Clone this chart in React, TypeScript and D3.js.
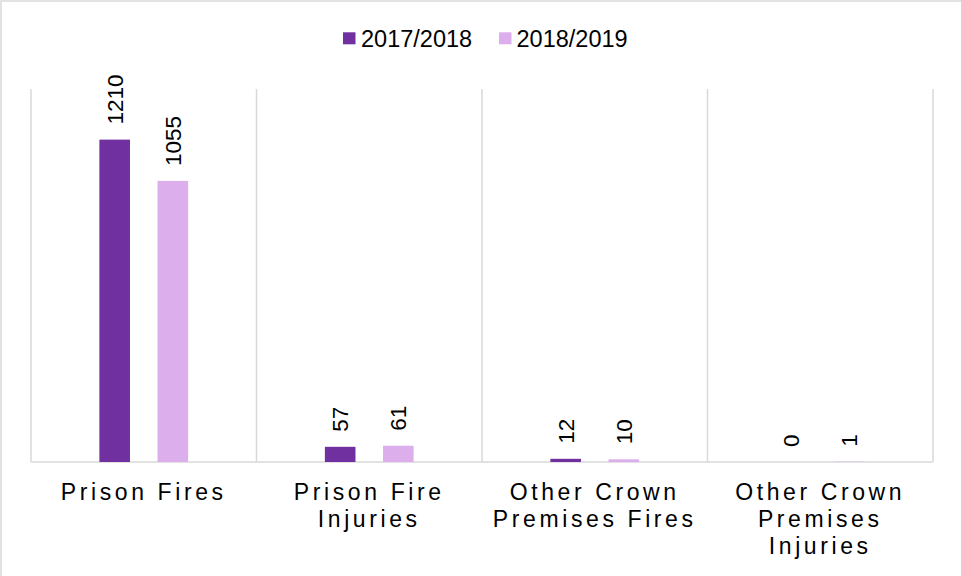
import React from "react";
import * as d3 from "d3";

const categories = [
  "Prison Fires",
  "Prison Fire Injuries",
  "Other Crown Premises Fires",
  "Other Crown Premises Injuries",
];
const categoryLines = [
  ["Prison Fires"],
  ["Prison Fire", "Injuries"],
  ["Other Crown", "Premises Fires"],
  ["Other Crown", "Premises", "Injuries"],
];
const seriesNames = ["2017/2018", "2018/2019"];
const values2017 = [1210, 57, 12, 0];
const values2018 = [1055, 61, 10, 1];
const seriesColors = ["#7030A0", "#DDAEEC"];

const W = 961;
const H = 576;
const FONT = "'Liberation Sans', Arial, Helvetica, sans-serif";

export default function App() {
  const left = 31;
  const right = 933;
  const top = 89;
  const base = 462;

  const x0 = d3.scaleBand<string>().domain(categories).range([left, right]).padding(0);
  const groupW = x0.bandwidth() * 0.3935;
  const x1 = d3.scaleBand<string>().domain(seriesNames).range([0, groupW]).paddingInner(0.474).paddingOuter(0);
  const y = d3.scaleLinear().domain([0, 1400]).range([base, top]);

  const series = [values2017, values2018];
  const gridXs = [...categories.map((c) => x0(c) as number), right];

  const legendItems = [
    { name: seriesNames[0], color: seriesColors[0], sx: 343, tx: 361 },
    { name: seriesNames[1], color: seriesColors[1], sx: 499, tx: 516.5 },
  ];

  return (
    <svg
      width={W}
      height={H}
      style={{ position: "absolute", left: 0, top: 0, background: "#fff" }}
      fontFamily={FONT}
    >
      <rect x={1} y={1} width={W + 10} height={H + 10} fill="#fff" stroke="#d9d9d9" strokeWidth={1.5} />
      {gridXs.map((gx, i) => (
        <line key={"g" + i} x1={gx} x2={gx} y1={top} y2={base} stroke="#d9d9d9" strokeWidth={1.5} />
      ))}
      <line x1={left} x2={right} y1={base} y2={base} stroke="#d9d9d9" strokeWidth={1.5} />

      {categories.map((c, ci) => {
        const gx = (x0(c) as number) + (x0.bandwidth() - groupW) / 2;
        return (
          <g key={c}>
            {series.map((vals, si) => {
              const bx = gx + (x1(seriesNames[si]) as number);
              const bw = x1.bandwidth();
              const v = vals[ci];
              const yt = y(v);
              const cx = bx + bw / 2;
              return (
                <g key={si}>
                  {v > 0 && (
                    <rect x={bx} y={yt} width={bw} height={base - yt} fill={seriesColors[si]} />
                  )}
                  <text
                    transform={`translate(${cx},${yt - 15}) rotate(-90)`}
                    dy="0.35em"
                    fontSize={22.5}
                    fill="#000"
                  >
                    {v}
                  </text>
                </g>
              );
            })}
            {categoryLines[ci].map((ln, li) => (
              <text
                key={li}
                x={(x0(c) as number) + x0.bandwidth() / 2}
                y={500 + li * 27}
                textAnchor="middle"
                fontSize={23}
                letterSpacing={3.6}
                fill="#000"
              >
                {ln}
              </text>
            ))}
          </g>
        );
      })}

      {legendItems.map((it) => (
        <g key={it.name}>
          <rect x={it.sx} y={32.3} width={12.5} height={12} fill={it.color} />
          <text x={it.tx} y={46.5} fontSize={23.5} fill="#000">
            {it.name}
          </text>
        </g>
      ))}
    </svg>
  );
}
